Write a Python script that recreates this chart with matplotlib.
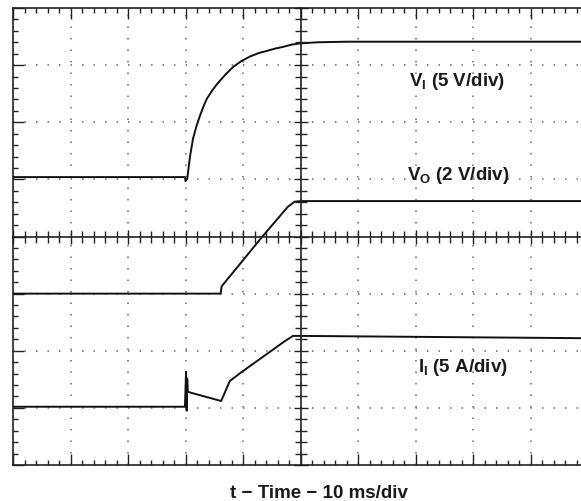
import numpy as np
import matplotlib
matplotlib.use("Agg")
import matplotlib.pyplot as plt
from matplotlib.ticker import MultipleLocator

# ---- data (time in ms, amplitude in screen divisions) ----
vi_t = [0, 29.9, 30.0, 30.3, 30.6, 30.8, 31.3, 31.9, 32.5, 33.1, 33.7, 34.6, 35.5, 36.9, 38.3,
        39.7, 41.2, 42.7, 44.2, 45.6, 47.0, 48.5, 49.9, 53.0, 58.1, 98.8]
vi_y = [5.04, 5.04, 4.97, 5.01, 5.25, 5.41, 5.71, 5.93, 6.11, 6.27, 6.41, 6.55, 6.67, 6.83, 6.97,
        7.07, 7.15, 7.21, 7.25, 7.29, 7.32, 7.36, 7.38, 7.40, 7.41, 7.41]

vo_t = [0, 36.1, 36.3, 43.3, 47.8, 49.0, 50.0, 98.8]
vo_y = [3.00, 3.00, 3.13, 3.99, 4.52, 4.61, 4.62, 4.62]

ii_t = [0, 29.9, 30.1, 30.2, 30.3, 30.4, 36.2, 36.5, 37.7, 39.8, 47.3, 48.7, 49.9, 98.8]
ii_y = [1.02, 1.02, 1.63, 0.95, 1.51, 1.28, 1.12, 1.19, 1.47, 1.63, 2.17, 2.26, 2.26, 2.22]

labels = ["V$_{\\mathrm{I}}$ (5 V/div)", "V$_{\\mathrm{O}}$ (2 V/div)", "I$_{\\mathrm{I}}$ (5 A/div)"]
xlabel = "t \u2212 Time \u2212 10 ms/div"

plt.rcParams['mathtext.fontset'] = 'custom'
plt.rcParams['mathtext.rm'] = 'Liberation Sans:bold'
plt.rcParams['mathtext.it'] = 'Liberation Sans:bold'
plt.rcParams['mathtext.bf'] = 'Liberation Sans:bold'
plt.rcParams['lines.scale_dashes'] = False

W, H = 581, 502
fig = plt.figure(figsize=(W / 100, H / 100), dpi=100)
rect = [13 / W, 36 / H, 575 / W, 457 / H]
ax = fig.add_axes(rect)
ax.set_xlim(0, 100)
ax.set_ylim(0, 8)

fc = '#222222'
for s in ['left', 'top', 'bottom', 'right']:
    ax.spines[s].set_linewidth(1.2)
    ax.spines[s].set_color(fc)
ax.xaxis.set_major_locator(MultipleLocator(10))
ax.xaxis.set_minor_locator(MultipleLocator(2))
ax.yaxis.set_major_locator(MultipleLocator(1))
ax.yaxis.set_minor_locator(MultipleLocator(0.2))
ax.tick_params(which='both', direction='in', top=True, bottom=True, left=True, right=False,
               labelbottom=False, labelleft=False, color=fc, width=1.0)
ax.tick_params(which='major', length=8)
ax.tick_params(which='minor', length=3.5)
ax.grid(which='major', linestyle=(0, (1.1, 7.18)), color='#777777', linewidth=1.2)

# centre crosshair with graduations
ax2 = fig.add_axes(rect, sharex=ax, sharey=ax)
ax2.patch.set_visible(False)
ax2.spines['top'].set_visible(False)
ax2.spines['right'].set_visible(False)
ax2.spines['left'].set_position(('data', 50))
ax2.spines['bottom'].set_position(('data', 4))
for s in ['left', 'bottom']:
    ax2.spines[s].set_linewidth(1.2)
    ax2.spines[s].set_color(fc)
ax2.tick_params(which='both', direction='inout', labelbottom=False, labelleft=False,
                color=fc, width=1.0, top=False, right=False)
ax2.tick_params(which='major', length=10)
ax2.tick_params(which='minor', length=8)

for t, y in [(vi_t, vi_y), (vo_t, vo_y), (ii_t, ii_y)]:
    ax.plot(t, y, color='#111111', lw=1.4, solid_joinstyle='round', zorder=5)

tc = '#1a1a1a'
pos = [(457, 82), (458, 175), (463, 368)]
for lab, (px, py) in zip(labels, pos):
    fig.text(px / W, 1 - py / H, lab, ha='center', va='center', fontsize=13.5,
             fontweight='bold', family='Liberation Sans', color=tc)

fig.text(319 / W, 1 - 494 / H, xlabel, ha='center', va='center', fontsize=13.5,
         fontweight='bold', family='Liberation Sans', color=tc)

fig.savefig('out.png', dpi=100)
